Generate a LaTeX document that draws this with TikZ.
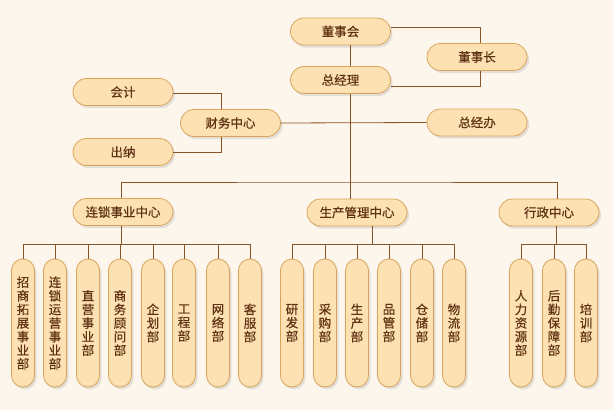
\documentclass[tikz,border=0pt]{standalone}
\usepackage{fontspec}
\setmainfont{Noto Sans CJK SC}[FakeBold=0.5]
\usetikzlibrary{shadows}
\definecolor{bg}{HTML}{FDF6EC}
\definecolor{boxfill}{HTML}{FDE1B3}
\definecolor{boxdraw}{HTML}{D9A45A}
\definecolor{txt}{HTML}{5E3212}
\definecolor{ln}{HTML}{8A5429}
\begin{document}
\begin{tikzpicture}[x=1pt,y=-1pt,
  base/.style={draw=boxdraw, fill=boxfill, line width=0.8pt, text=txt, inner sep=0pt,
    drop shadow={shadow xshift=2pt, shadow yshift=-2.5pt, fill=black!40, opacity=0.25}},
  hbox/.style={base, minimum width=100pt, minimum height=27pt, rounded corners=13.5pt,
    font=\fontsize{12.5}{13}\selectfont},
  vbox/.style={base, minimum width=23pt, minimum height=128pt, rounded corners=11.5pt,
    align=center, font=\fontsize{12.5}{13.6}\selectfont},
  conn/.style={draw=ln, line width=0.8pt}]
\fill[bg] (0,0) rectangle (614,410);
\useasboundingbox (0,0) rectangle (614,410);

\coordinate (bus) at (350,182);

% top-level nodes
\node[hbox] (dsh) at (340.5,31.5) {董事会};
\node[hbox] (dsz) at (477,57) {董事长};
\node[hbox] (zjl) at (340.5,80) {总经理};
\node[hbox] (kj)  at (123,92) {会计};
\node[hbox] (cw)  at (230.5,123) {财务中心};
\node[hbox] (cn)  at (123,152) {出纳};
\node[hbox] (zjb) at (477,122.5) {总经办};
\node[hbox] (ls)  at (123,212) {连锁事业中心};
\node[hbox] (sc)  at (357,212.5) {生产管理中心};
\node[hbox] (xz)  at (549,212.5) {行政中心};

% leaves
\node[vbox] (a1) at (23,323) {招\\商\\拓\\展\\事\\业\\部};
\node[vbox] (a2) at (55,323) {连\\锁\\运\\营\\事\\业\\部};
\node[vbox] (a3) at (88,323) {直\\营\\事\\业\\部};
\node[vbox] (a4) at (120,323) {商\\务\\顾\\问\\部};
\node[vbox] (a5) at (153,323) {企\\划\\部};
\node[vbox] (a6) at (184,323) {工\\程\\部};
\node[vbox] (a7) at (218,323) {网\\络\\部};
\node[vbox] (a8) at (250,323) {客\\服\\部};

\node[vbox] (b1) at (292,323) {研\\发\\部};
\node[vbox] (b2) at (325,323) {采\\购\\部};
\node[vbox] (b3) at (357,323) {生\\产\\部};
\node[vbox] (b4) at (389,323) {品\\管\\部};
\node[vbox] (b5) at (422,323) {仓\\储\\部};
\node[vbox] (b6) at (454,323) {物\\流\\部};

\node[vbox] (c1) at (521,323) {人\\力\\资\\源\\部};
\node[vbox] (c2) at (554,323) {后\\勤\\保\\障\\部};
\node[vbox] (c3) at (586,323) {培\\训\\部};

% connectors
\draw[conn] (dsh.east |- 0,27) -| (480,0 |- dsz.north);
\draw[conn] (480,0 |- dsz.south) |- (zjl.east |- 0,86);
\draw[conn] (350,0 |- dsh.south) -- (350,0 |- zjl.north);
\draw[conn] (350,0 |- zjl.south) -- (bus);
\draw[conn] (kj.east |- 0,93) -| (221,0 |- cw.north);
\draw[conn] (221,0 |- cw.south) |- (cn.east |- 0,152);
\draw[conn] (cw.east) -- (zjb.west);
\draw[conn] (121,0 |- ls.north) |- (bus) -| (557,0 |- xz.north);
\draw[conn] (bus) -- (350,0 |- sc.north);

\draw[conn] (121,0 |- ls.south) -- (121,244);
\draw[conn] (a1.north) |- (a8.north |- 0,244) -- (a8.north);
\foreach \n in {a2,a3,a4,a5,a6,a7} \draw[conn] (\n.north) -- (\n.north |- 0,244);

\draw[conn] (372,0 |- sc.south) -- (372,244);
\draw[conn] (b1.north) |- (b6.north |- 0,244) -- (b6.north);
\foreach \n in {b2,b3,b4,b5} \draw[conn] (\n.north) -- (\n.north |- 0,244);

\draw[conn] (556,0 |- xz.south) -- (556,244);
\draw[conn] (c1.north) |- (c3.north |- 0,244) -- (c3.north);
\draw[conn] (c2.north) -- (c2.north |- 0,244);
\end{tikzpicture}
\end{document}
